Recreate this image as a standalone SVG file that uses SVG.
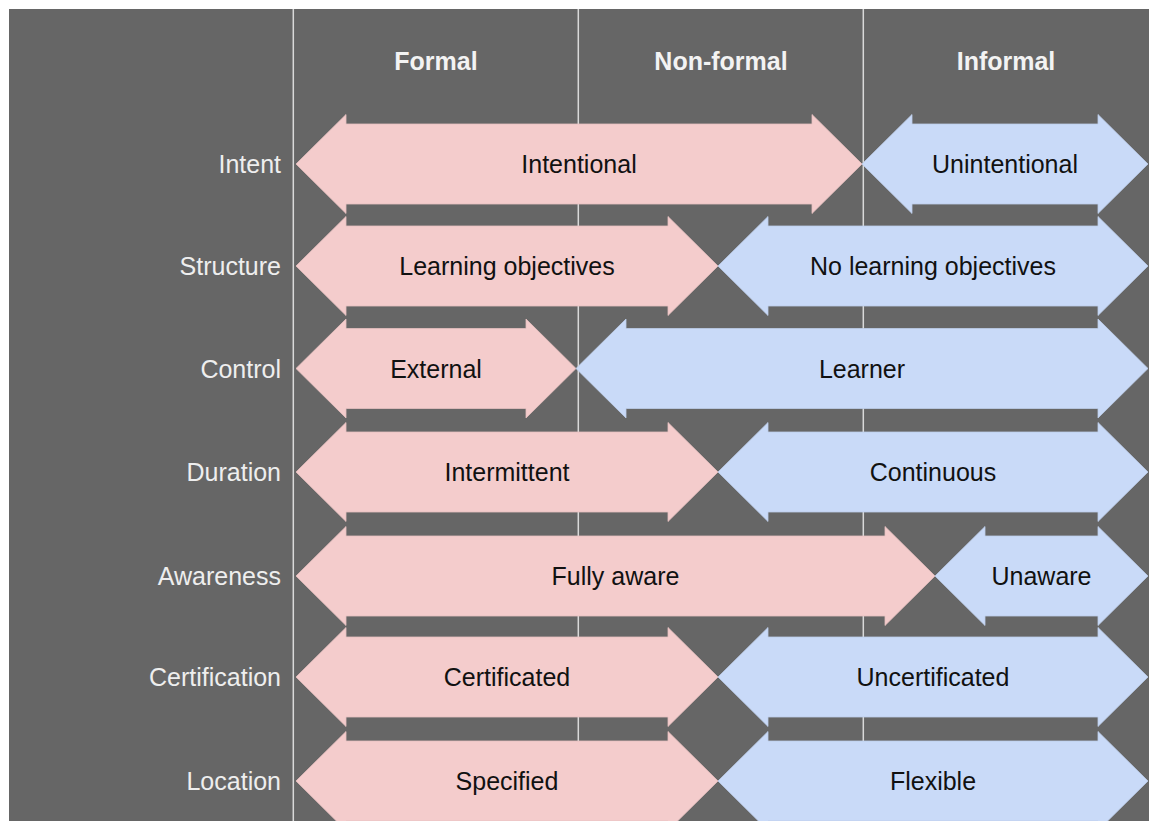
<svg xmlns="http://www.w3.org/2000/svg" width="1149" height="822" viewBox="0 0 1149 822">
<style>
.bg{fill:#666666}
.col{stroke:#d9d9d9;stroke-width:1.5}
.pink{fill:#f4cccc;stroke:#e6c0c0;stroke-width:0.8}
.blue{fill:#c9daf8;stroke:#bccde8;stroke-width:0.8}
.hdr{font-family:"Liberation Sans",Arial,sans-serif;font-size:25px;font-weight:bold;fill:#f3f3f3;text-anchor:middle}
.lbl{font-family:"Liberation Sans",Arial,sans-serif;font-size:25px;fill:#eeeeee;text-anchor:end}
.txt{font-family:"Liberation Sans",Arial,sans-serif;font-size:25px;fill:#111111;text-anchor:middle}
</style>
<rect x="0" y="0" width="1149" height="822" fill="#ffffff"/>
<rect class="bg" x="9" y="9" width="1140" height="812"/>
<g id="columns">
<line class="col" x1="293.3" y1="9" x2="293.3" y2="821"/>
<line class="col" x1="578.3" y1="9" x2="578.3" y2="821"/>
<line class="col" x1="863.3" y1="9" x2="863.3" y2="821"/>
</g>
<g id="headers">
<text class="hdr" x="436" y="70">Formal</text>
<text class="hdr" x="721" y="70">Non-formal</text>
<text class="hdr" x="1006" y="70">Informal</text>
</g>
<g id="row-labels">
<text class="lbl" x="281" y="173">Intent</text>
<text class="lbl" x="281" y="275">Structure</text>
<text class="lbl" x="281" y="377.5">Control</text>
<text class="lbl" x="281" y="481">Duration</text>
<text class="lbl" x="281" y="585">Awareness</text>
<text class="lbl" x="281" y="686">Certification</text>
<text class="lbl" x="281" y="790">Location</text>
</g>
<g id="intent">
<polygon class="pink" points="296,164 346,114.5 346,124 812,124 812,114.5 862,164 812,213.5 812,204 346,204 346,213.5"/>
<text class="txt" x="579" y="173">Intentional</text>
<polygon class="blue" points="862,164 912,114.5 912,124 1098,124 1098,114.5 1148,164 1098,213.5 1098,204 912,204 912,213.5"/>
<text class="txt" x="1005" y="173">Unintentional</text>
</g>
<g id="structure">
<polygon class="pink" points="296,266 346,216.5 346,226 668,226 668,216.5 718,266 668,315.5 668,306 346,306 346,315.5"/>
<text class="txt" x="507" y="275">Learning objectives</text>
<polygon class="blue" points="718,266 768,216.5 768,226 1098,226 1098,216.5 1148,266 1098,315.5 1098,306 768,306 768,315.5"/>
<text class="txt" x="933" y="275">No learning objectives</text>
</g>
<g id="control">
<polygon class="pink" points="296,368.5 346,319 346,328.5 526,328.5 526,319 576,368.5 526,418 526,408.5 346,408.5 346,418"/>
<text class="txt" x="436" y="377.5">External</text>
<polygon class="blue" points="576,368.5 626,319 626,328.5 1098,328.5 1098,319 1148,368.5 1098,418 1098,408.5 626,408.5 626,418"/>
<text class="txt" x="862" y="377.5">Learner</text>
</g>
<g id="duration">
<polygon class="pink" points="296,472 346,422.5 346,432 668,432 668,422.5 718,472 668,521.5 668,512 346,512 346,521.5"/>
<text class="txt" x="507" y="481">Intermittent</text>
<polygon class="blue" points="718,472 768,422.5 768,432 1098,432 1098,422.5 1148,472 1098,521.5 1098,512 768,512 768,521.5"/>
<text class="txt" x="933" y="481">Continuous</text>
</g>
<g id="awareness">
<polygon class="pink" points="296,576 346,526.5 346,536 885,536 885,526.5 935,576 885,625.5 885,616 346,616 346,625.5"/>
<text class="txt" x="615.5" y="585">Fully aware</text>
<polygon class="blue" points="935,576 985,526.5 985,536 1098,536 1098,526.5 1148,576 1098,625.5 1098,616 985,616 985,625.5"/>
<text class="txt" x="1041.5" y="585">Unaware</text>
</g>
<g id="certification">
<polygon class="pink" points="296,677 346,627.5 346,637 668,637 668,627.5 718,677 668,726.5 668,717 346,717 346,726.5"/>
<text class="txt" x="507" y="686">Certificated</text>
<polygon class="blue" points="718,677 768,627.5 768,637 1098,637 1098,627.5 1148,677 1098,726.5 1098,717 768,717 768,726.5"/>
<text class="txt" x="933" y="686">Uncertificated</text>
</g>
<g id="location">
<polygon class="pink" points="296,781 346,731.5 346,741 668,741 668,731.5 718,781 668,830.5 668,821 346,821 346,830.5"/>
<text class="txt" x="507" y="790">Specified</text>
<polygon class="blue" points="718,781 768,731.5 768,741 1098,741 1098,731.5 1148,781 1098,830.5 1098,821 768,821 768,830.5"/>
<text class="txt" x="933" y="790">Flexible</text>
</g>
<rect x="0" y="821" width="1149" height="1" fill="#ffffff"/>
</svg>
